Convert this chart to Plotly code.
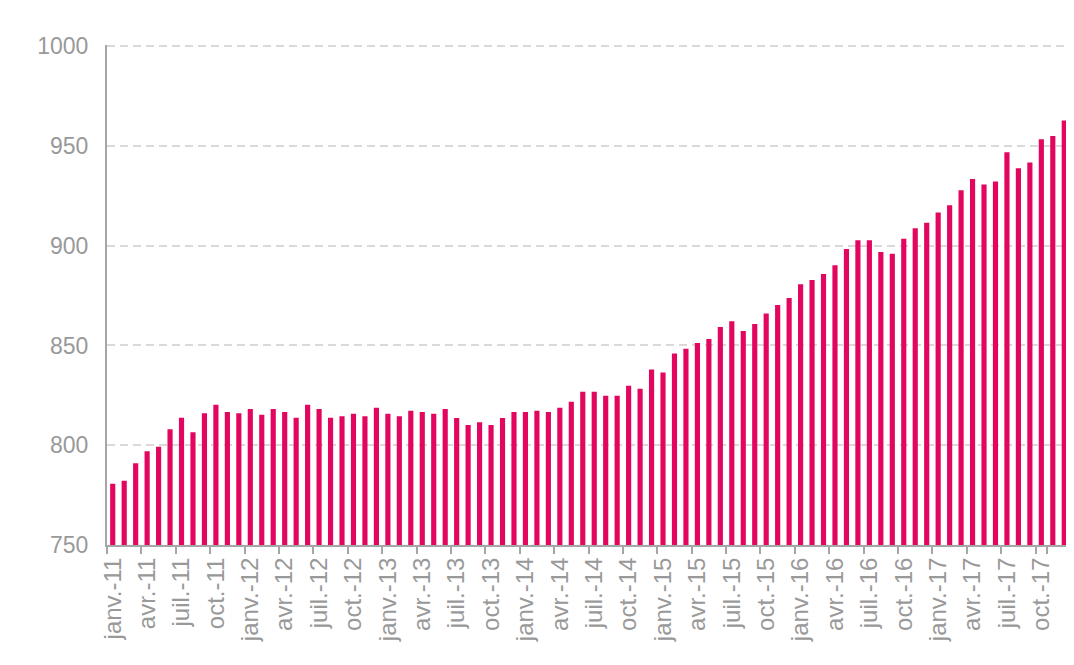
import plotly.graph_objects as go

months = ["janv.", "févr.", "mars", "avr.", "mai", "juin", "juil.", "août", "sept.", "oct.", "nov.", "déc."]
years = ["11", "12", "13", "14", "15", "16", "17"]
categories = [f"{m}-{y}" for y in years for m in months]

values = [
    780.7, 782.2, 791.0, 797.0, 799.2, 808.0, 813.8, 806.5, 816.0, 820.3, 816.7, 816.0,
    818.2, 815.3, 818.2, 816.7, 813.8, 820.3, 818.2, 813.8, 814.5, 815.8, 814.5, 818.8,
    815.8, 814.5, 817.3, 816.7, 815.8, 818.2, 813.7, 810.2, 811.5, 810.2, 813.7, 816.7,
    816.7, 817.3, 816.7, 818.8, 821.8, 826.8, 826.8, 824.8, 824.8, 829.8, 828.3, 838.0,
    836.5, 846.0, 848.3, 851.2, 853.3, 859.3, 862.2, 857.2, 860.8, 866.0, 870.3, 873.8,
    880.7, 882.8, 885.8, 890.2, 898.3, 902.7, 902.7, 896.8, 896.0, 903.5, 908.7, 911.5,
    916.7, 920.3, 927.8, 933.5, 930.7, 932.2, 946.8, 938.8, 941.7, 953.3, 955.0, 962.8,
]

tick_vals = categories[::3]
y_ticks = [750, 800, 850, 900, 950, 1000]

fig = go.Figure(
    go.Bar(x=categories, y=values, marker=dict(color="#E2065E", line=dict(width=0)))
)

fig.update_layout(
    width=1074,
    height=665,
    margin=dict(l=99, r=12, t=37, b=128, autoexpand=False),
    plot_bgcolor="white",
    paper_bgcolor="white",
    bargap=0.55,
    showlegend=False,
    font=dict(family="Liberation Sans, Arial", color="#999999"),
)

fig.update_xaxes(
    type="category",
    automargin=False,
    tickmode="array",
    tickvals=tick_vals,
    ticktext=tick_vals,
    tickson="boundaries",
    ticks="outside",
    ticklen=7,
    tickcolor="#a6a6a6",
    tickwidth=1.5,
    tickangle=-90,
    ticklabelstandoff=1,
    tickfont=dict(size=24, color="#999999"),
    showline=True,
    linecolor="#a6a6a6",
    linewidth=2,
    showgrid=False,
)

fig.update_yaxes(
    range=[750, 1000.6],
    automargin=False,
    tickvals=y_ticks,
    showgrid=True,
    gridcolor="#d9d9d9",
    gridwidth=2,
    griddash="8px,5px",
    showline=True,
    linecolor="#a6a6a6",
    linewidth=2,
    ticks="",
    ticklabelstandoff=12,
    tickfont=dict(size=23, color="#999999"),
    zeroline=False,
)

fig.write_html("out.html")
